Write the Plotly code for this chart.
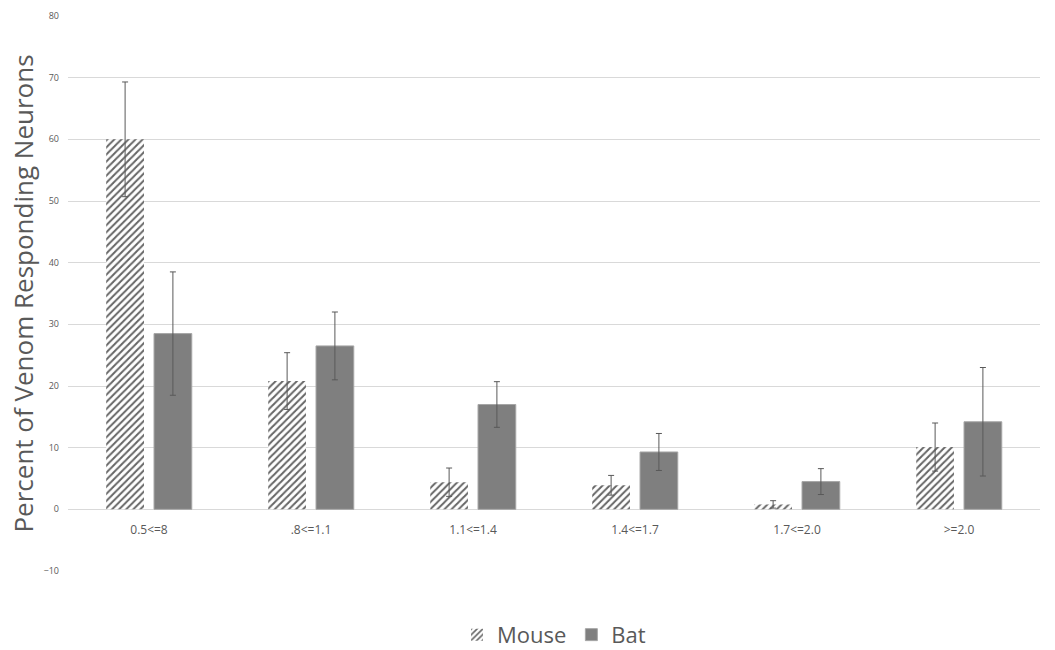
import plotly.graph_objects as go

categories = ["0.5<=8", ".8<=1.1", "1.1<=1.4", "1.4<=1.7", "1.7<=2.0", ">=2.0"]
mouse_values = [60.0, 20.8, 4.4, 3.9, 0.8, 10.1]
mouse_errors = [9.3, 4.6, 2.3, 1.6, 0.6, 3.9]
bat_values = [28.5, 26.5, 17.0, 9.3, 4.5, 14.2]
bat_errors = [10.0, 5.5, 3.7, 3.0, 2.1, 8.8]

GREY = "#7f7f7f"
TEXT = "#595959"
GRID = "#d9d9d9"
FONT = "Open Sans, Noto Sans, sans-serif"

fig = go.Figure()
fig.add_trace(go.Bar(
    name="Mouse", x=categories, y=mouse_values,
    marker=dict(color="white",
                pattern=dict(shape="/", fgcolor="#666666", bgcolor="white",
                             fgopacity=1, size=5, solidity=0.4),
                line=dict(width=0)),
    error_y=dict(type="data", array=mouse_errors, color=TEXT,
                 thickness=1, width=3),
))
fig.add_trace(go.Bar(
    name="Bat", x=categories, y=bat_values,
    marker=dict(color=GREY, line=dict(color="#a6a6a6", width=1)),
    error_y=dict(type="data", array=bat_errors, color=TEXT,
                 thickness=1, width=3),
))

fig.update_layout(
    width=1055, height=650,
    margin=dict(l=68, r=15, t=16, b=79, autoexpand=False),
    paper_bgcolor="white", plot_bgcolor="white",
    barmode="group", bargap=0.41, bargroupgap=0.21,
    font=dict(family=FONT, color=TEXT),
    legend=dict(orientation="h", x=0.5, xanchor="center", y=-0.115,
                yanchor="middle", font=dict(size=22, color=TEXT),
                traceorder="normal"),
    xaxis=dict(anchor="free", position=10 / 90, showline=False,
               showgrid=False, ticks="", ticklabelstandoff=12,
               tickfont=dict(size=12, color=TEXT)),
    yaxis=dict(range=[-10, 80], dtick=10, showgrid=True, gridcolor=GRID,
               gridwidth=1, zeroline=True, zerolinecolor=GRID,
               zerolinewidth=1, showline=False, ticks="",
               ticklabelstandoff=8,
               tickfont=dict(size=9, color=TEXT),
               title=dict(text="Percent of Venom Responding Neurons",
                          font=dict(size=26, color=TEXT), standoff=2)),
)

fig.write_html("out.html")
